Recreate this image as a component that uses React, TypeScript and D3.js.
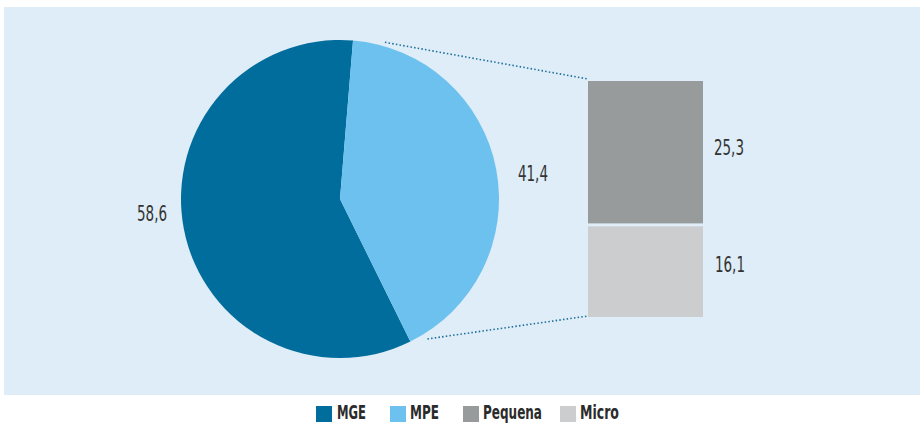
import React, { useLayoutEffect, useRef, useState } from "react";
import * as d3 from "d3";

const pieCategories = ["MGE", "MPE"];
const pieValues = [58.6, 41.4];
const pieLabels = ["58,6", "41,4"];
const barCategories = ["Pequena", "Micro"];
const barValues = [25.3, 16.1];
const barLabels = ["25,3", "16,1"];
const legendLabels = ["MGE", "MPE", "Pequena", "Micro"];

const pieColors = ["#006d9c", "#6dc1ee"];
const barColors = ["#979b9c", "#cbcdcf"];
const legendColors = ["#006d9c", "#6dc1ee", "#979b9c", "#cbcdcf"];

const W = 924;
const H = 424;

function FitText(props: {
  x: number;
  y: number;
  width: number;
  anchor?: string;
  size: number;
  weight?: number | string;
  fill: string;
  font: string;
  children: string;
}) {
  const ref = useRef<SVGTextElement>(null);
  const [sx, setSx] = useState(1);
  useLayoutEffect(() => {
    if (ref.current) {
      const w = ref.current.getComputedTextLength();
      if (w > 0) setSx(props.width / w);
    }
  }, [props.width, props.children]);
  return (
    <text
      ref={ref}
      transform={`translate(${props.x},${props.y}) scale(${sx},1)`}
      textAnchor={(props.anchor || "start") as any}
      fontFamily={props.font}
      fontSize={props.size}
      fontWeight={props.weight as any}
      fill={props.fill}
    >
      {props.children}
    </text>
  );
}

export default function App() {
  const cx = 340;
  const cy = 199;
  const r = 159;
  const offset = 0.082;
  const total = d3.sum(pieValues);
  const share0 = pieValues[0] / total;
  const start = offset - 2 * Math.PI * share0;
  const pie = d3
    .pie<number>()
    .sort(null)
    .startAngle(start)
    .endAngle(start + 2 * Math.PI)(pieValues);
  const arc = d3.arc<d3.PieArcDatum<number>>().innerRadius(0).outerRadius(r);

  // bars
  const barX = 588;
  const barW = 115;
  const barTop = 81;
  const gap = 3;
  const barTotal = d3.sum(barValues);
  const yScale = d3.scaleLinear().domain([0, barTotal]).range([0, 233]);
  let acc = barTop;
  const bars = barValues.map((v, i) => {
    const h = yScale(v);
    const b = { y: acc, h, v, i };
    acc += h + gap;
    return b;
  });
  const barBottom = bars[bars.length - 1].y + bars[bars.length - 1].h;

  const pt = (ang: number, rad: number) => [cx + rad * Math.sin(ang), cy - rad * Math.cos(ang)];
  const topStart = pt((16 * Math.PI) / 180, 163);
  const botStart = pt((148 * Math.PI) / 180, 165);

  const labelPos = [
    { x: 167, y: 221, anchor: "end" },
    { x: 518, y: 181, anchor: "start" },
  ];
  const barLabelX = [714, 715];
  const barLabelDy = [3, 0];
  const legendSq = [316, 390, 463, 560];
  const legendTx = [337, 410, 483, 580];
  const legendW = [29, 29, 59, 39];

  const font = "'Liberation Sans Narrow', 'DejaVu Sans Condensed', 'Liberation Sans', sans-serif";

  return (
    <svg
      width={W}
      height={H}
      style={{ position: "absolute", left: 0, top: 0, background: "#ffffff" }}
    >
      <rect x={4} y={7} width={916} height={388} fill="#deedf7" />
      {pie.map((d, i) => (
        <path key={pieCategories[i]} d={arc(d) || ""} transform={`translate(${cx},${cy})`} fill={pieColors[i]} />
      ))}
      <line
        x1={topStart[0]}
        y1={topStart[1]}
        x2={barX}
        y2={barTop - 2}
        stroke="#1f6f9a"
        strokeWidth={1.6}
        strokeDasharray="1.5,2.2"
      />
      <line
        x1={botStart[0]}
        y1={botStart[1]}
        x2={barX}
        y2={barBottom - 1}
        stroke="#1f6f9a"
        strokeWidth={1.6}
        strokeDasharray="1.5,2.2"
      />
      {bars.map((b) => (
        <rect key={barCategories[b.i]} x={barX} y={b.y} width={barW} height={b.h} fill={barColors[b.i]} />
      ))}
      {pieLabels.map((t, i) => (
        <FitText
          key={t}
          x={labelPos[i].x}
          y={labelPos[i].y}
          anchor={labelPos[i].anchor}
          width={30}
          size={21}
          fill="#333333"
          font={font}
        >
          {t}
        </FitText>
      ))}
      {bars.map((b) => (
        <FitText
          key={barLabels[b.i]}
          x={barLabelX[b.i]}
          y={b.y + b.h / 2 + barLabelDy[b.i]}
          width={30}
          size={21}
          fill="#333333"
          font={font}
        >
          {barLabels[b.i]}
        </FitText>
      ))}
      {legendLabels.map((t, i) => (
        <g key={t}>
          <rect x={legendSq[i]} y={406} width={16} height={16} fill={legendColors[i]} />
          <FitText
            x={legendTx[i]}
            y={419}
            width={legendW[i]}
            size={20}
            weight={900}
            fill="#2b2b2b"
            font={font}
          >
            {t}
          </FitText>
        </g>
      ))}
    </svg>
  );
}
